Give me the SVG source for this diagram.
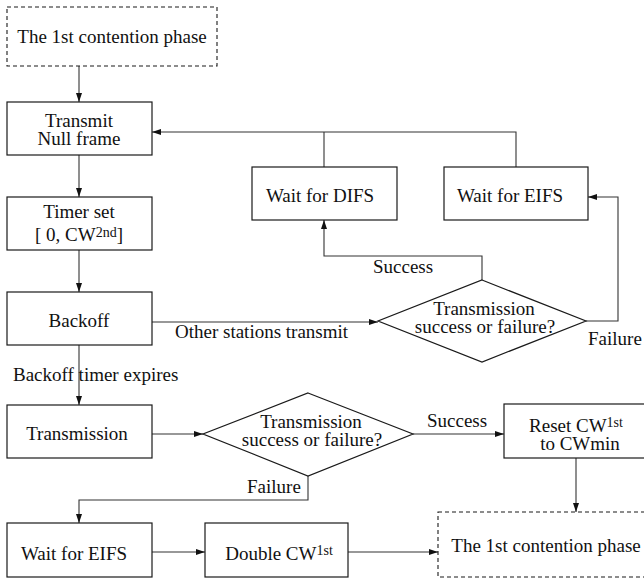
<svg xmlns="http://www.w3.org/2000/svg" width="644" height="578" viewBox="0 0 644 578">
<style>
.box{fill:#fff;stroke:#1a1a1a;stroke-width:1.2}
.dash{fill:#fff;stroke:#1a1a1a;stroke-width:1.1;stroke-dasharray:4,3}
.con{fill:none;stroke:#333;stroke-width:1.1}
text{font-family:"Liberation Serif","Times New Roman",serif;font-size:19px;fill:#111}
.m{text-anchor:middle}
.sup{font-size:14px}
</style>
<defs>
<marker id="arr" markerUnits="userSpaceOnUse" markerWidth="10" markerHeight="8" refX="9" refY="4" orient="auto">
<path d="M0,1 L9,4 L0,7 Z" fill="#111"/>
</marker>
</defs>
<rect width="644" height="578" fill="#fff"/>
<g id="connectors">
<path class="con" d="M79,66 V102" marker-end="url(#arr)"/>
<path class="con" d="M79,155 V197" marker-end="url(#arr)"/>
<path class="con" d="M79,250 V292" marker-end="url(#arr)"/>
<path class="con" d="M79,345 V405" marker-end="url(#arr)"/>
<path class="con" d="M152,322 H378" marker-end="url(#arr)"/>
<path class="con" d="M482,280 V256 H324 V220" marker-end="url(#arr)"/>
<path class="con" d="M586,321 H618 V197 H588" marker-end="url(#arr)"/>
<path class="con" d="M516,167 V132 H152" marker-end="url(#arr)"/>
<path class="con" d="M324,167 V132"/>
<path class="con" d="M152,434 H203" marker-end="url(#arr)"/>
<path class="con" d="M413,434 H504" marker-end="url(#arr)"/>
<path class="con" d="M308,476 V500 H79 V523" marker-end="url(#arr)"/>
<path class="con" d="M152,552 H205" marker-end="url(#arr)"/>
<path class="con" d="M348,552 H438" marker-end="url(#arr)"/>
<path class="con" d="M576,458 V512" marker-end="url(#arr)"/>
</g>
<g id="labels">
<text x="373" y="273">Success</text>
<text x="175" y="338">Other stations transmit</text>
<text x="588" y="345">Failure</text>
<text x="13" y="381">Backoff timer expires</text>
<text x="427" y="427">Success</text>
<text x="247" y="493">Failure</text>
</g>
<g id="start1">
<rect class="dash" x="7" y="7" width="210" height="59"/>
<text class="m" x="112" y="43">The 1st contention phase</text>
</g>
<g id="transmit-null">
<rect class="box" x="7" y="102" width="145" height="53"/>
<text class="m" x="79" y="127">Transmit</text>
<text class="m" x="79" y="145">Null frame</text>
</g>
<g id="timer-set">
<rect class="box" x="7" y="197" width="145" height="53"/>
<text class="m" x="79" y="218">Timer set</text>
<text class="m" x="79" y="241">[ 0, CW<tspan class="sup" dy="-4">2nd</tspan><tspan dy="4">]</tspan></text>
</g>
<g id="backoff">
<rect class="box" x="7" y="292" width="145" height="53"/>
<text class="m" x="79" y="327">Backoff</text>
</g>
<g id="wait-difs">
<rect class="box" x="252" y="167" width="145" height="53"/>
<text class="m" x="320" y="202">Wait for DIFS</text>
</g>
<g id="wait-eifs-top">
<rect class="box" x="444" y="167" width="144" height="53"/>
<text class="m" x="510" y="202">Wait for EIFS</text>
</g>
<g id="decision1">
<polygon class="box" points="482,280 586,321 482,362 378,321"/>
<text class="m" x="484" y="315">Transmission</text>
<text class="m" x="485" y="333">success or failure?</text>
</g>
<g id="transmission">
<rect class="box" x="7" y="405" width="145" height="53"/>
<text class="m" x="77" y="440">Transmission</text>
</g>
<g id="decision2">
<polygon class="box" points="308,393 413,434 308,476 203,434"/>
<text class="m" x="311" y="428">Transmission</text>
<text class="m" x="312" y="446">success or failure?</text>
</g>
<g id="reset-cw">
<rect class="box" x="504" y="404" width="146" height="54"/>
<text class="m" x="576" y="432">Reset CW<tspan class="sup" dy="-5">1st</tspan></text>
<text class="m" x="580" y="450">to CWmin</text>
</g>
<g id="wait-eifs-bottom">
<rect class="box" x="7" y="523" width="145" height="54"/>
<text class="m" x="74" y="560">Wait for EIFS</text>
</g>
<g id="double-cw">
<rect class="box" x="205" y="523" width="143" height="54"/>
<text class="m" x="279" y="560">Double CW<tspan class="sup" dy="-5">1st</tspan></text>
</g>
<g id="start1-bottom">
<rect class="dash" x="438" y="512" width="212" height="65"/>
<text class="m" x="546" y="552">The 1st contention phase</text>
</g>
</svg>
